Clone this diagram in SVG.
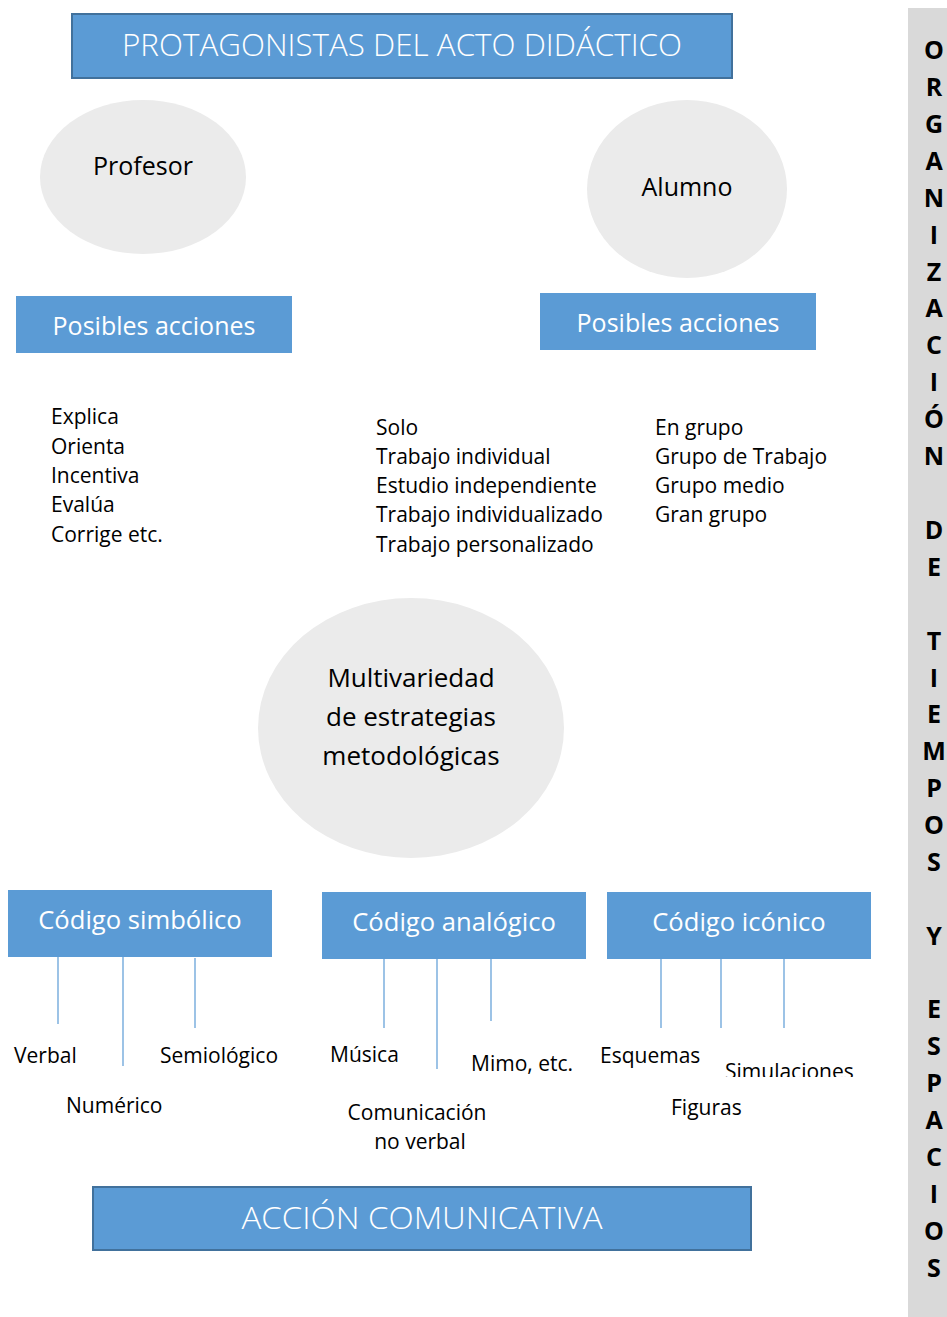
<svg xmlns="http://www.w3.org/2000/svg" width="947" height="1317" viewBox="0 0 947 1317">
<style>
.bg{fill:#ffffff}
.hdr{fill:#5B9BD5;stroke:#41719C;stroke-width:2}
.box{fill:#5B9BD5}
.ell{fill:#EBEBEB}
.ttl{font-family:"Open Sans","Liberation Sans",sans-serif;font-weight:300;fill:#ffffff;text-anchor:middle;font-size:31px}
.wt{font-family:"Open Sans","Liberation Sans",sans-serif;fill:#ffffff;text-anchor:middle}
.bk{font-family:"Open Sans","Liberation Sans",sans-serif;fill:#000000}
.t21{font-size:21px}
.t25{font-size:25px}
.t26{font-size:26px}
.t27{font-size:25.6px}
.ctr{text-anchor:middle}
.side{font-family:"Open Sans","Liberation Sans",sans-serif;font-weight:700;font-size:25px;fill:#000;text-anchor:middle}
.ln{stroke:#5B9BD5;stroke-width:1.2;fill:none}
</style>
<defs>
<clipPath id="simclip"><rect x="700" y="1040" width="180" height="37"/></clipPath>
</defs>
<rect class="bg" x="0" y="0" width="947" height="1317"/>

<g id="side-bar">
<rect x="908" y="8" width="39" height="1309" fill="#D9D9D9"/>
<text class="side" x="934" y="59">O</text>
<text class="side" x="934" y="96">R</text>
<text class="side" x="934" y="133">G</text>
<text class="side" x="934" y="170">A</text>
<text class="side" x="934" y="207">N</text>
<text class="side" x="934" y="244">I</text>
<text class="side" x="934" y="281">Z</text>
<text class="side" x="934" y="317">A</text>
<text class="side" x="934" y="354">C</text>
<text class="side" x="934" y="391">I</text>
<text class="side" x="934" y="428">Ó</text>
<text class="side" x="934" y="465">N</text>
<text class="side" x="934" y="539">D</text>
<text class="side" x="934" y="576">E</text>
<text class="side" x="934" y="650">T</text>
<text class="side" x="934" y="687">I</text>
<text class="side" x="934" y="723">E</text>
<text class="side" x="934" y="760">M</text>
<text class="side" x="934" y="797">P</text>
<text class="side" x="934" y="834">O</text>
<text class="side" x="934" y="871">S</text>
<text class="side" x="934" y="945">Y</text>
<text class="side" x="934" y="1018">E</text>
<text class="side" x="934" y="1055">S</text>
<text class="side" x="934" y="1092">P</text>
<text class="side" x="934" y="1129">A</text>
<text class="side" x="934" y="1166">C</text>
<text class="side" x="934" y="1203">I</text>
<text class="side" x="934" y="1240">O</text>
<text class="side" x="934" y="1277">S</text>
</g>

<g id="connectors">
<line class="ln" x1="58" y1="957" x2="58" y2="1024"/>
<line class="ln" x1="123" y1="957" x2="123" y2="1066"/>
<line class="ln" x1="195" y1="958" x2="195" y2="1028"/>
<line class="ln" x1="384" y1="959" x2="384" y2="1028"/>
<line class="ln" x1="437" y1="959" x2="437" y2="1069"/>
<line class="ln" x1="491" y1="959" x2="491" y2="1021"/>
<line class="ln" x1="661" y1="959" x2="661" y2="1028"/>
<line class="ln" x1="721" y1="959" x2="721" y2="1028"/>
<line class="ln" x1="784" y1="959" x2="784" y2="1028"/>
</g>

<g id="title">
<rect class="hdr" x="72" y="14" width="660" height="64"/>
<text class="ttl" x="402" y="56" textLength="560" lengthAdjust="spacingAndGlyphs">PROTAGONISTAS DEL ACTO DIDÁCTICO</text>
</g>

<g id="profesor">
<ellipse class="ell" cx="143" cy="177" rx="103" ry="77"/>
<text class="bk ctr t25" x="143" y="175">Profesor</text>
</g>

<g id="alumno">
<ellipse class="ell" cx="687" cy="189" rx="100" ry="89"/>
<text class="bk ctr t25" x="687" y="196">Alumno</text>
</g>

<g id="acciones-profesor">
<rect class="box" x="16" y="296" width="276" height="57"/>
<text class="wt t25" x="154" y="335">Posibles acciones</text>
</g>

<g id="acciones-alumno">
<rect class="box" x="540" y="293" width="276" height="57"/>
<text class="wt t25" x="678" y="332">Posibles acciones</text>
</g>

<g id="lista-profesor">
<text class="bk t21" x="51" y="424">Explica</text>
<text class="bk t21" x="51" y="454">Orienta</text>
<text class="bk t21" x="51" y="483">Incentiva</text>
<text class="bk t21" x="51" y="512">Evalúa</text>
<text class="bk t21" x="51" y="542">Corrige etc.</text>
</g>

<g id="lista-solo">
<text class="bk t21" x="376" y="435">Solo</text>
<text class="bk t21" x="376" y="464">Trabajo individual</text>
<text class="bk t21" x="376" y="493">Estudio independiente</text>
<text class="bk t21" x="376" y="522">Trabajo individualizado</text>
<text class="bk t21" x="376" y="552">Trabajo personalizado</text>
</g>

<g id="lista-grupo">
<text class="bk t21" x="655" y="435">En grupo</text>
<text class="bk t21" x="655" y="464">Grupo de Trabajo</text>
<text class="bk t21" x="655" y="493">Grupo medio</text>
<text class="bk t21" x="655" y="522">Gran grupo</text>
</g>

<g id="multivariedad">
<ellipse class="ell" cx="411" cy="728" rx="153" ry="130"/>
<text class="bk ctr t26" x="411" y="687">Multivariedad</text>
<text class="bk ctr t26" x="411" y="726">de estrategias</text>
<text class="bk ctr t26" x="411" y="765">metodológicas</text>
</g>

<g id="codigo-simbolico">
<rect class="box" x="8" y="890" width="264" height="67"/>
<text class="wt t27" x="140" y="929">Código simbólico</text>
</g>

<g id="codigo-analogico">
<rect class="box" x="322" y="892" width="264" height="67"/>
<text class="wt t27" x="454" y="931">Código analógico</text>
</g>

<g id="codigo-iconico">
<rect class="box" x="607" y="892" width="264" height="67"/>
<text class="wt t27" x="739" y="931">Código icónico</text>
</g>

<g id="labels-simbolico">
<text class="bk t21" x="14" y="1063">Verbal</text>
<text class="bk t21" x="160" y="1063">Semiológico</text>
<text class="bk t21" x="66" y="1113">Numérico</text>
</g>

<g id="labels-analogico">
<text class="bk t21" x="330" y="1062">Música</text>
<text class="bk t21" x="471" y="1071">Mimo, etc.</text>
<text class="bk ctr t21" x="417" y="1120">Comunicación</text>
<text class="bk ctr t21" x="420" y="1149">no verbal</text>
</g>

<g id="labels-iconico">
<text class="bk t21" x="600" y="1063">Esquemas</text>
<text class="bk t21" x="725" y="1079" clip-path="url(#simclip)">Simulaciones</text>
<text class="bk t21" x="671" y="1115">Figuras</text>
</g>

<g id="accion-comunicativa">
<rect class="hdr" x="93" y="1187" width="658" height="63"/>
<text class="ttl" x="422" y="1229" textLength="361" lengthAdjust="spacingAndGlyphs">ACCIÓN COMUNICATIVA</text>
</g>
</svg>
